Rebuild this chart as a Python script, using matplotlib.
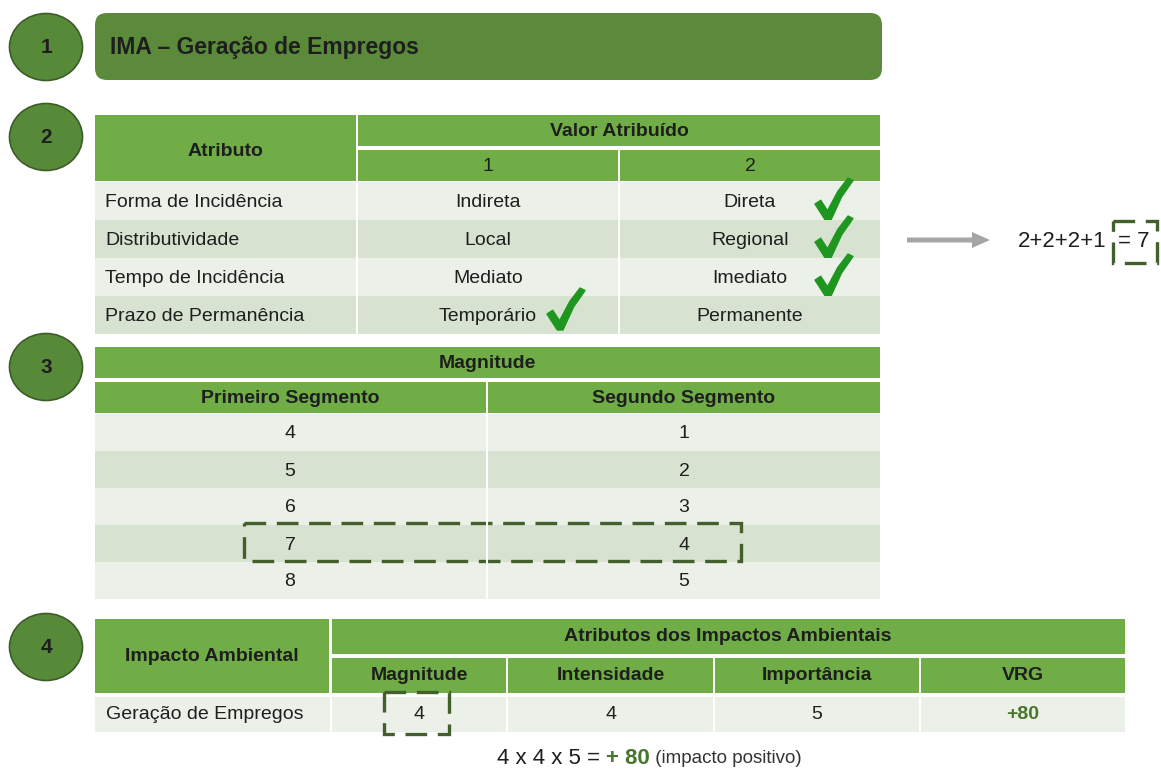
import matplotlib
matplotlib.use("Agg")
import matplotlib.pyplot as plt
from matplotlib.patches import Rectangle, Ellipse, FancyBboxPatch, Polygon, FancyArrow

plt.rcParams['font.family'] = ['Liberation Sans', 'DejaVu Sans']

# ---- data ----
title = "IMA – Geração de Empregos"
step_labels = ["1", "2", "3", "4"]

attr_names = ["Forma de Incidência", "Distributividade", "Tempo de Incidência", "Prazo de Permanência"]
attr_val1 = ["Indireta", "Local", "Mediato", "Temporário"]
attr_val2 = ["Direta", "Regional", "Imediato", "Permanente"]
attr_chosen = [2, 2, 2, 1]          # value given to each attribute

seg_first = [4, 5, 6, 7, 8]
seg_second = [1, 2, 3, 4, 5]
seg_pick = 3                         # row of the magnitude range chosen

impact_name = "Geração de Empregos"
impact_cols = ["Magnitude", "Intensidade", "Importância", "VRG"]
impact_vals = ["4", "4", "5", "+80"]
formula_nums = [4, 4, 5]
formula_result = "+ 80"

# ---- styles ----
GREEN_HDR = "#70ad47"
GREEN_DARK = "#578a38"
ROW_LIGHT = "#ebf0e8"
ROW_DARK = "#d7e3d0"
CHECK = "#1f961f"
DASH = "#435f2c"
TXT = "#1e1e1e"
FS = 14

fig = plt.figure(figsize=(11.61, 7.69), dpi=100)
ax = fig.add_axes([0, 0, 1, 1])
ax.set_xlim(0, 1161)
ax.set_ylim(769, 0)
ax.axis('off')


def box(x0, y0, x1, y1, color):
    ax.add_patch(Rectangle((x0, y0), x1 - x0, y1 - y0, facecolor=color, edgecolor='none'))


def txt(x, y, s, ha='center', bold=False, size=FS, color=TXT):
    # small downward nudge: 'center' also counts the descent
    return ax.text(x, y + 1.5, s, ha=ha, va='center', fontsize=size,
                   fontweight='bold' if bold else 'normal', color=color)


def vline(x, y0, y1):
    ax.plot([x, x], [y0, y1], color='white', lw=1.5, solid_capstyle='butt')


def check(x0, y0, w=38, h=42):
    pts = [(0.0, 0.62), (0.15, 0.53), (0.33, 0.78), (0.6, 0.32), (0.87, 0.0),
           (1.0, 0.06), (0.7, 0.45), (0.42, 1.0), (0.27, 1.0)]
    ax.add_patch(Polygon([(x0 + px * w, y0 + py * h) for px, py in pts],
                         closed=True, facecolor=CHECK, edgecolor=CHECK, lw=1, joinstyle='round'))


def dashed(x0, y0, x1, y1):
    ax.add_patch(Rectangle((x0, y0), x1 - x0, y1 - y0, fill=False, edgecolor=DASH,
                           lw=2.4, linestyle=(0, (6.5, 3.2))))


# step circles
circle_y = [47, 137, 367, 647]
for lab, cy in zip(step_labels, circle_y):
    ax.add_patch(Ellipse((46, cy), 73, 67, facecolor=GREEN_DARK, edgecolor="#3d5c28", lw=1.2))
    txt(46, cy - 1, lab, bold=True, size=15)

# title bar
ax.add_patch(FancyBboxPatch((95, 13), 787, 67, boxstyle="round,pad=0,rounding_size=12",
                            facecolor="#5a8a3a", edgecolor='none'))
txt(110, 46, title, ha='left', bold=True, size=16.5)

# ---- table 2 ----
box(95, 115, 356, 181, GREEN_HDR)
box(358, 115, 880, 146, GREEN_HDR)
box(358, 150, 618, 181, GREEN_HDR)
box(620, 150, 880, 181, GREEN_HDR)
txt(225, 150, "Atributo", bold=True)
txt(619, 130, "Valor Atribuído", bold=True)
txt(488, 165, "1")
txt(750, 165, "2")
rh = 38
for i, (a, v1, v2, c) in enumerate(zip(attr_names, attr_val1, attr_val2, attr_chosen)):
    y0 = 182 + i * rh
    box(95, y0, 880, y0 + rh, ROW_LIGHT if i % 2 == 0 else ROW_DARK)
    yc = y0 + rh / 2
    txt(105, yc, a, ha='left')
    txt(488, yc, v1)
    txt(750, yc, v2)
    if c == 2:
        check(815, y0 - 4)
    else:
        check(547, y0 - 8)
vline(357, 182, 182 + 4 * rh)
vline(619, 182, 182 + 4 * rh)

# arrow and sum
ax.add_patch(FancyArrow(907, 240, 83, 0, width=5, head_width=16, head_length=18,
                        length_includes_head=True, facecolor="#a6a6a6", edgecolor='none'))
txt(1018, 240, "+".join(str(c) for c in attr_chosen), ha='left', size=16)
txt(1118, 240, "= %d" % sum(attr_chosen), ha='left', size=16)
dashed(1113, 221, 1157, 263)

# ---- table 3 ----
box(95, 347, 880, 378, GREEN_HDR)
box(95, 382, 486, 413, GREEN_HDR)
box(488, 382, 880, 413, GREEN_HDR)
txt(487, 362, "Magnitude", bold=True)
txt(290, 397, "Primeiro Segmento", bold=True)
txt(684, 397, "Segundo Segmento", bold=True)
rh3 = 37
for i, (a, b) in enumerate(zip(seg_first, seg_second)):
    y0 = 414 + i * rh3
    box(95, y0, 880, y0 + rh3, ROW_LIGHT if i % 2 == 0 else ROW_DARK)
    txt(290, y0 + rh3 / 2, str(a))
    txt(684, y0 + rh3 / 2, str(b))
vline(487, 414, 414 + 5 * rh3)
dashed(244, 414 + seg_pick * rh3 - 2, 741, 414 + (seg_pick + 1) * rh3 - 1)

# ---- table 4 ----
col_edges = [(332, 506), (508, 713), (715, 919), (921, 1125)]
box(95, 619, 329, 693, GREEN_HDR)
box(332, 619, 1125, 654, GREEN_HDR)
txt(212, 655, "Impacto Ambiental", bold=True)
txt(728, 635, "Atributos dos Impactos Ambientais", bold=True)
box(95, 697, 1125, 732, ROW_LIGHT)
txt(106, 713, impact_name, ha='left')
for (x0, x1), name, val in zip(col_edges, impact_cols, impact_vals):
    box(x0, 658, x1, 693, GREEN_HDR)
    txt((x0 + x1) / 2, 674, name, bold=True)
    if name == "VRG":
        txt((x0 + x1) / 2, 713, val, bold=True, color="#47752b")
    else:
        txt((x0 + x1) / 2, 713, val)
for x in [330.5, 507, 714, 920]:
    vline(x, 697, 732)
dashed(384, 692, 449, 734)

# formula line with mixed styles
fig.canvas.draw()
rend = fig.canvas.get_renderer()
inv = ax.transData.inverted()
parts = [(" x ".join(str(n) for n in formula_nums) + " = ", False, 16, TXT),
         (formula_result, True, 16, "#47752b"),
         (" (impacto positivo)", False, 13.5, "#333333")]
x = 497
for s, b, sz, col in parts:
    t = txt(x, 757, s, ha='left', bold=b, size=sz, color=col)
    bb = t.get_window_extent(renderer=rend)
    x = inv.transform((bb.x1, bb.y0))[0]

fig.savefig("out.png", dpi=100)
